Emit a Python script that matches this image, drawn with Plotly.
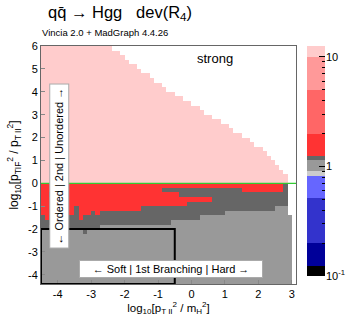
import numpy as np
import plotly.graph_objects as go

# histogram binning (log10 pT2 ratios)
x_lo, x_bin, nx = -4.5, 0.125, 61
y_lo, y_bin, ny = -4.4, 0.2, 52

# per-column boundaries (one value per x bin)
top_edge = [6.0] * 17 + [5.8, 5.8, 5.6, 5.4, 5.2, 5.2, 5.0, 4.8, 4.8, 4.6, 4.4, 4.4,
                         4.2, 4.0, 4.0, 3.8, 3.8, 3.6, 3.6, 3.4, 3.4, 3.2, 3.0, 3.0,
                         2.8, 2.8, 2.6, 2.6, 2.4, 2.2, 2.2, 2.0, 2.0, 1.8, 1.6, 1.6,
                         1.4, 1.2, 1.0, 0.8, 0.6, 0.4, -1.4, -4.4]
red_edge = ([-1.4, -1.6, -1.4, -1.4, -1.4, -1.4, -1.4, -1.4, -1.0, -1.6, -1.4, -1.4, -1.2, -1.4]
            + [-1.2] * 10 + [-1.0] * 11 + [-0.8] * 6 + [-0.2] * 7 + [-0.4] * 10 + [0.0] * 3)
dark_edge = ([-2.0, -2.0, -1.8, -2.0, -2.0, -2.0, -2.0, -2.0, -2.0, -2.0, -2.2, -2.0, -2.0, -2.0]
             + [-1.8] * 17 + [-1.6] * 7 + [-1.4] * 6 + [-1.2] * 12 + [-1.0] * 3 + [-1.4] * 2)
patch_hi = [0.0] * 2 + [-0.4] + [0.0] * 26 + [-0.2] * 12 + [0.0] * 20
patch_lo = [0.0] * 2 + [-0.6] + [0.0] * 26 + [-0.4] * 4 + [-0.6] * 8 + [0.0] * 20

# deviation ratio levels
pink_val, red_val, dark_val, gray_val = 11.0, 1.6, 1.18, 1.0

# colour palette levels (log10 boundaries, colours)
level_edges = [-1.0, -0.91, -0.70, -0.29, -0.09, -0.037, 0.055, 0.10, 0.30, 0.70, 1.0, 1.1]
level_colors = ['#000000', '#000099', '#3333cc', '#6666ff', '#cccccc', '#999999',
                '#666666', '#ff3333', '#ff6666', '#ff9999', '#ffcccc']

x_ticks = [-4, -3, -2, -1, 0, 1, 2, 3]
y_ticks = [-4, -3, -2, -1, 0, 1, 2, 3, 4, 5, 6]
cb_major = [0.1, 1, 10]
cb_major_text = ['10<sup>-1</sup>', '1', '10']
cb_minor = [0.2, 0.3, 0.4, 0.5, 0.6, 0.7, 0.8, 0.9, 2, 3, 4, 5, 6, 7, 8, 9]

W, H = 349, 328

xc = x_lo + x_bin * (np.arange(nx) + 0.5)
yc = y_lo + y_bin * (np.arange(ny) + 0.5)

z = np.full((ny, nx), np.nan)
for i in range(nx):
    for j in range(ny):
        y = yc[j]
        if y > top_edge[i]:
            continue
        if y > 0:
            v = pink_val
        elif y > red_edge[i]:
            v = dark_val if patch_lo[i] < y < patch_hi[i] else red_val
        elif y > dark_edge[i]:
            v = dark_val
        else:
            v = gray_val
        z[j, i] = np.log10(v)

zmin, zmax = level_edges[0], level_edges[-1]
cscale = []
for k, c in enumerate(level_colors):
    a = (level_edges[k] - zmin) / (zmax - zmin)
    b = (level_edges[k + 1] - zmin) / (zmax - zmin)
    cscale += [[a, c], [b, c]]

font = 'Liberation Sans, Arial, sans-serif'

fig = go.Figure()
fig.add_trace(go.Heatmap(x=xc, y=yc, z=z, zmin=zmin, zmax=zmax, colorscale=cscale,
                         showscale=False, hoverongaps=False))

# palette bar drawn on its own axes so it can carry major + minor ticks
mids = [(level_edges[k] + level_edges[k + 1]) / 2 for k in range(len(level_colors))]
fig.add_trace(go.Heatmap(x=[0.5], y=level_edges, z=[[m] for m in mids], zmin=zmin,
                         zmax=zmax, colorscale=cscale, showscale=False,
                         xaxis='x2', yaxis='y2', hoverinfo='skip'))

# green line at the ordering boundary
fig.add_shape(type='line', x0=x_lo, x1=x_lo + nx * x_bin, y0=0, y1=0,
              line=dict(color='#33cc33', width=1.2))
# soft region box
fig.add_shape(type='rect', x0=x_lo, x1=-0.5, y0=y_lo, y1=-2.0,
              line=dict(color='black', width=2))

fig.add_annotation(x=-3.95, y=0.75, text='← Ordered | 2nd | Unordered →',
                   textangle=-90, showarrow=False, bgcolor='white',
                   bordercolor='#aaaaaa', borderwidth=1, borderpad=3,
                   font=dict(size=11, family=font, color='black'))
fig.add_annotation(x=-0.6, y=-3.75, text='← Soft | 1st Branching | Hard →',
                   showarrow=False, bgcolor='white', bordercolor='#aaaaaa',
                   borderwidth=1, borderpad=2, width=178,
                   font=dict(size=11, family=font, color='black'))
fig.add_annotation(x=0.7, y=5.45, text='strong', showarrow=False,
                   font=dict(size=13, family=font, color='black'))

fig.add_annotation(x=46 / W, y=1 - 13 / H, xref='paper', yref='paper', xanchor='left',
                   yanchor='middle', showarrow=False,
                   text='qq\u0304 \u2192 Hgg   dev(R<sub>4</sub>)',
                   font=dict(size=16.5, family=font, color='black'))
fig.add_annotation(x=40 / W, y=1 - 33 / H, xref='paper', yref='paper', xanchor='left',
                   yanchor='middle', showarrow=False,
                   text='Vincia 2.0 + MadGraph 4.4.26',
                   font=dict(size=9.5, family=font, color='black'))

axis_font = dict(size=11, family=font, color='black')
fig.update_layout(
    width=W, height=H, margin=dict(l=0, r=0, t=0, b=0),
    plot_bgcolor='white', paper_bgcolor='white', showlegend=False,
    xaxis=dict(domain=[41 / W, 296 / W], anchor='y', automargin=False,
               range=[x_lo, x_lo + nx * x_bin], tickvals=x_ticks,
               ticktext=[str(t) for t in x_ticks],
               ticks='inside', ticklen=4, tickcolor='#888888', showgrid=False,
               zeroline=False, showline=True, linecolor='#666666', mirror=True,
               tickfont=axis_font,
               title=dict(text='log<sub>10</sub>[p<sub>T II</sub><sup>2</sup> / m<sub>H</sub><sup>2</sup>]',
                          font=dict(size=11.5, family=font, color='black'), standoff=4)),
    yaxis=dict(domain=[1 - 284 / H, 1 - 46 / H], anchor='x', automargin=False,
               range=[y_lo, y_lo + ny * y_bin], tickvals=y_ticks,
               ticktext=[str(t) for t in y_ticks],
               ticks='inside', ticklen=4, tickcolor='#888888', showgrid=False,
               zeroline=False, showline=True, linecolor='#666666', mirror=True,
               tickfont=axis_font,
               title=dict(text='log<sub>10</sub>[p<sub>TIF</sub><sup>2</sup> / p<sub>T II</sub><sup>2</sup>]',
                          font=dict(size=12, family=font, color='black'), standoff=6)),
    xaxis2=dict(domain=[307 / W, 325 / W], anchor='y2', range=[0, 1], visible=False,
                fixedrange=True),
    yaxis2=dict(domain=[1 - 276 / H, 1 - 46 / H], anchor='x2', side='right',
                automargin=False, range=[zmin, zmax], fixedrange=True,
                tickvals=np.log10(cb_major).tolist(), ticktext=cb_major_text,
                ticks='inside', ticklen=6, tickcolor='black', tickfont=axis_font,
                showgrid=False, zeroline=False, showline=False,
                minor=dict(tickvals=np.log10(cb_minor).tolist(), ticks='inside',
                           ticklen=3, tickcolor='black', showgrid=False)),
)

# page body has a default 8px margin; drop it so the figure sits at the window corner
fig.write_html('out.html', config={'displayModeBar': False},
               post_script="document.body.style.margin='0';")
